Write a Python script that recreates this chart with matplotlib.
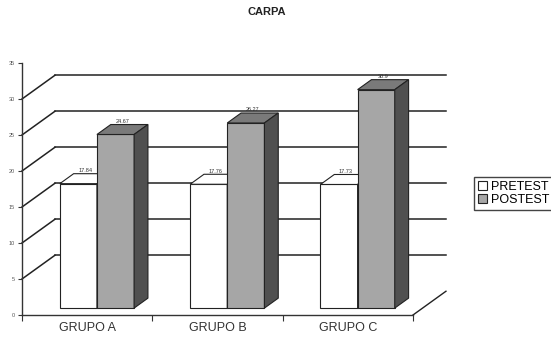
import matplotlib
matplotlib.use("Agg")
import matplotlib.pyplot as plt
from matplotlib.patches import Patch, Polygon

plt.rcParams['font.family'] = ['Liberation Sans', 'DejaVu Sans']

grupos = ['GRUPO A', 'GRUPO B', 'GRUPO C']
pretest = [17.84, 17.76, 17.73]
postest = [24.67, 26.27, 30.9]
pre_labels = ['17.84', '17.76', '17.73']
post_labels = ['24.67', '26.27', '30.9']
yticks = [0, 5, 10, 15, 20, 25, 30, 35]

# fake 3d depth, in data units
DX, DY = 0.253, 3.3
F0, FD = 0.29, 0.42      # bar front offset / bar depth as fraction of depth
LIFT = 0.4
W = 0.285

def main():
    fig = plt.figure(figsize=(5.51, 3.43), dpi=100)
    W_PX, H_PX = 551, 343
    sx, sy = 130.33, 7.2
    x0, x1 = -0.12, 3.45
    y0, y1 = -1.5, 38
    left = 22 + x0 * sx
    bottom = 28 + y0 * sy
    ax = fig.add_axes([left / W_PX, bottom / H_PX,
                       (x1 - x0) * sx / W_PX, (y1 - y0) * sy / H_PX])
    ax.set_xlim(x0, x1)
    ax.set_ylim(y0, y1)
    ax.patch.set_alpha(0)

    # back wall grid + diagonals
    n = len(grupos)
    for v in yticks[1:-1]:
        ax.plot([0, DX], [v, v + DY], color='#222', lw=1.1, zorder=1)
        ax.plot([DX, n + DX], [v + DY, v + DY], color='#222', lw=1.1, zorder=1)
    ax.plot([n, n + DX], [0, DY], color='#222', lw=1.0, zorder=1)

    bdx, bdy = FD * DX, FD * DY
    base = F0 * DY
    for i in range(n):
        for k, (vals, labs) in enumerate([(pretest, pre_labels), (postest, post_labels)]):
            xl = i + 0.29 + k * W
            top = vals[i] + LIFT
            if k == 0:
                front, topc, side = 'white', 'white', 'white'
            else:
                front, topc, side = '#a6a6a6', '#7a7a7a', '#505050'
            ax.bar(xl, top - base, bottom=base, width=W, align='edge',
                   color=front, edgecolor='#222', lw=0.8, zorder=3 + k)
            ax.add_patch(Polygon([(xl, top), (xl + W, top), (xl + W + bdx, top + bdy),
                                  (xl + bdx, top + bdy)], closed=True,
                                 facecolor=topc, edgecolor='#222', lw=0.8, zorder=3 + k))
            ax.add_patch(Polygon([(xl + W, base), (xl + W, top), (xl + W + bdx, top + bdy),
                                  (xl + W + bdx, base + bdy)], closed=True,
                                 facecolor=side, edgecolor='#222', lw=0.8, zorder=3 + k))
            ax.text(xl + W / 2 + bdx * 0.5, top + bdy + 0.1, labs[i],
                    fontsize=4, color='#333', ha='center', va='bottom', zorder=6)

    # axes
    for s in ['top', 'right']:
        ax.spines[s].set_visible(False)
    ax.spines['left'].set_position(('data', 0))
    ax.spines['bottom'].set_position(('data', 0))
    ax.spines['left'].set_bounds(0, 35)
    ax.spines['bottom'].set_bounds(0, n)
    for s in ['left', 'bottom']:
        ax.spines[s].set_color('#333')
        ax.spines[s].set_linewidth(1.0)
    ax.set_yticks(yticks)
    ax.set_yticklabels([str(t) for t in yticks], fontsize=4, color='#555')
    ax.tick_params(axis='y', length=3, width=0.8, color='#333', pad=2)
    ax.set_xticks(range(n + 1))
    ax.set_xticklabels([''] * (n + 1))
    ax.tick_params(axis='x', which='major', length=4, width=0.8, color='#333')
    ax.set_xticks([i + 0.5 for i in range(n)], minor=True)
    ax.set_xticklabels(grupos, minor=True, fontsize=9, color='#333')
    ax.tick_params(axis='x', which='minor', length=0, pad=5)

    fig.text(0.484, 1 - 12 / H_PX, 'CARPA', fontsize=8, fontweight='bold',
             ha='center', va='center', color='#222')

    handles = [Patch(facecolor='white', edgecolor='#222', lw=0.8),
               Patch(facecolor='#a6a6a6', edgecolor='#222', lw=0.8)]
    fig.legend(handles, ['PRETEST', 'POSTEST'], loc='upper left',
               bbox_to_anchor=(468 / W_PX, 1 - 171 / H_PX), fontsize=9,
               handlelength=0.7, handleheight=0.7, handletextpad=0.3,
               labelspacing=0.1, borderpad=0.3, fancybox=False,
               edgecolor='#444', framealpha=1)

    fig.savefig('out.png', dpi=100)

if __name__ == "__main__":
    main()
